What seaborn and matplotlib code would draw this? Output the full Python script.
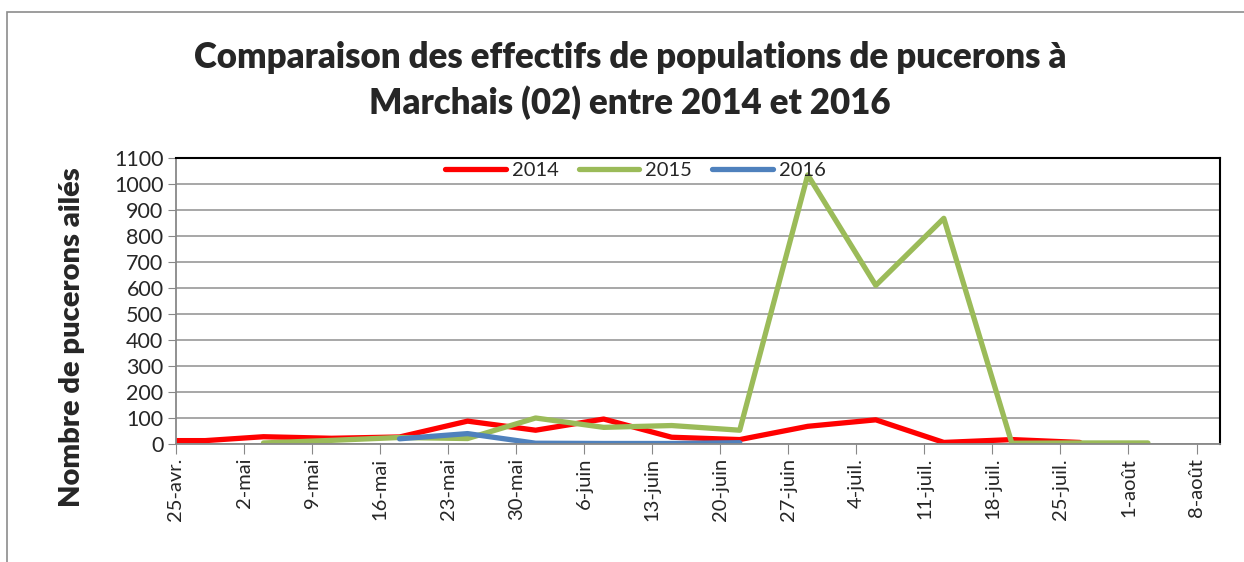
import matplotlib
matplotlib.use("Agg")
import matplotlib.pyplot as plt
from matplotlib.patches import Rectangle
import seaborn as sns
import pandas as pd

# day-month of each count (all years put on the same calendar)
dates_2014 = ["25-04", "28-04", "04-05", "11-05", "18-05", "25-05", "01-06", "08-06",
              "15-06", "22-06", "29-06", "06-07", "13-07", "20-07", "27-07"]
aphids_2014 = [13, 13, 28, 22, 27, 88, 53, 96, 26, 17, 68, 93, 6, 17, 6]

dates_2015 = ["04-05", "11-05", "18-05", "25-05", "01-06", "08-06", "15-06", "22-06",
              "29-06", "06-07", "13-07", "20-07", "27-07", "03-08"]
aphids_2015 = [4, 14, 25, 21, 100, 64, 71, 53, 1035, 610, 868, 3, 4, 4]

dates_2016 = ["18-05", "25-05", "01-06", "08-06", "15-06", "22-06"]
aphids_2016 = [20, 40, 3, 2, 2, 5]

tick_dates = ["25-04", "02-05", "09-05", "16-05", "23-05", "30-05", "06-06", "13-06",
              "20-06", "27-06", "04-07", "11-07", "18-07", "25-07", "01-08", "08-08"]
tick_labels = ["25-avr.", "2-mai", "9-mai", "16-mai", "23-mai", "30-mai", "6-juin", "13-juin",
               "20-juin", "27-juin", "4-juil.", "11-juil.", "18-juil.", "25-juil.", "1-août", "8-août"]

years = ["2014", "2015", "2016"]
colors = ["#FF0000", "#9BBB59", "#4F81BD"]


def to_date(s):
    return pd.to_datetime(s + "-2014", format="%d-%m-%Y")


frames = []
for yr, d, v in zip(years, [dates_2014, dates_2015, dates_2016],
                    [aphids_2014, aphids_2015, aphids_2016]):
    frames.append(pd.DataFrame({"date": [to_date(x) for x in d], "count": v, "year": yr}))
df = pd.concat(frames, ignore_index=True)

sns.set_style("white")
plt.rcParams["font.family"] = ["Lato", "DejaVu Sans"]

fig = plt.figure(figsize=(12.44, 5.62), dpi=100)
ax = fig.add_axes([176 / 1244, 1 - 444 / 562, (1220 - 176) / 1244, (444 - 158) / 562])

sns.lineplot(data=df, x="date", y="count", hue="year", palette=dict(zip(years, colors)),
             linewidth=3.8, ax=ax, sort=True)

ax.set_xlim(to_date("25-04"), to_date("10-08") + pd.Timedelta(hours=10))
ax.set_ylim(0, 1100)
ax.set_yticks(range(0, 1101, 100))
ax.set_xticks([to_date(t) for t in tick_dates])
ax.set_xticklabels(tick_labels, rotation=90, fontsize=14.5)
ax.tick_params(axis="y", labelsize=15.5, length=6, color="#888888", direction="out", left=True, pad=3)
ax.tick_params(axis="x", length=7, color="#888888", direction="out", bottom=True, pad=3)
ax.grid(axis="y", color="#a0a0a0", linewidth=1.3)
ax.set_axisbelow(True)

for side in ["left", "bottom"]:
    ax.spines[side].set_color("#888888")
    ax.spines[side].set_linewidth(1.3)
for side in ["top", "right"]:
    ax.spines[side].set_color("black")
    ax.spines[side].set_linewidth(1.5)

ax.set_xlabel("")
ax.set_ylabel("Nombre de pucerons ailés", fontsize=21, fontweight="heavy")
ax.yaxis.set_label_coords(-0.087, 0.372)

ax.legend(loc="upper center", bbox_to_anchor=(0.44, 1.05), ncol=3, frameon=False,
          fontsize=14.5, handlelength=3.0, columnspacing=1.0, handletextpad=0.3)

fig.suptitle("Comparaison des effectifs de populations de pucerons à\nMarchais (02) entre 2014 et 2016",
             x=630 / 1244, y=1 - 41 / 562, fontsize=25, fontweight="heavy", linespacing=1.4)

fig.patches.append(Rectangle((7 / 1244, -0.1), 1.2, 1 - 12 / 562 + 0.1, transform=fig.transFigure,
                             fill=False, edgecolor="#8c8c8c", linewidth=1.2))

fig.savefig("out.png", dpi=100)
